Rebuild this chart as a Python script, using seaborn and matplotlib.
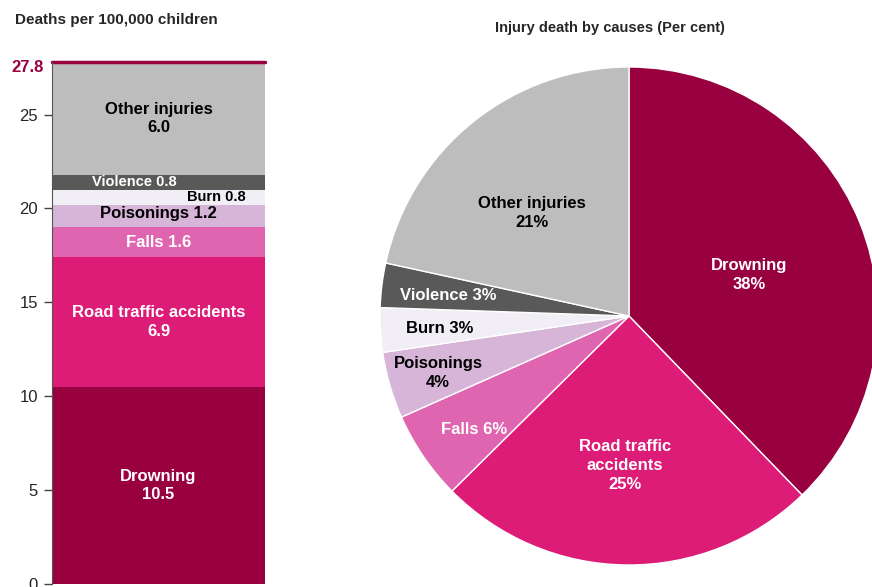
import numpy as np
import matplotlib
matplotlib.use("Agg")
import matplotlib.pyplot as plt
import seaborn as sns

# data
causes = ["Drowning", "Road traffic accidents", "Falls", "Poisonings", "Burn", "Violence", "Other injuries"]
rates = [10.5, 6.9, 1.6, 1.2, 0.8, 0.8, 6.0]
pie_pct = [38, 25, 6, 4, 3, 3, 21]
colors = ["#990040", "#DD1C77", "#DF65B0", "#D7B5D8", "#F1EEF6", "#595959", "#BDBDBD"]
text_colors = ["white", "white", "white", "black", "black", "white", "black"]
total = sum(rates)

sns.set_style("white")
plt.rcParams["font.family"] = ["Liberation Sans", "DejaVu Sans"]

fig = plt.figure(figsize=(8.72, 5.87), dpi=100)

# left: stacked bar
ax1 = fig.add_axes([52 / 872, 3 / 587, 213 / 872, 522 / 587])
bottom = 0
for c, v, col in zip(causes, rates, colors):
    sns.barplot(x=["all"], y=[v], bottom=bottom, color=col, width=1.0,
                saturation=1, linewidth=0, ax=ax1)
    bottom += v
ax1.set_xlim(-0.5, 0.5)
ax1.set_ylim(0, total)
ax1.axhline(total, color="#990040", lw=2.5, clip_on=False)
ax1.set_xticks([])
ax1.set_xlabel("")
ax1.set_yticks([0, 5, 10, 15, 20, 25])
ax1.tick_params(axis="y", direction="out", length=6, width=1, color="#444444",
                labelsize=12, left=True, pad=4)
for s in ["top", "right", "bottom"]:
    ax1.spines[s].set_visible(False)
ax1.spines["left"].set_color("#555555")
ax1.text(-0.04, total - 0.3, f"{total:.1f}", transform=ax1.get_yaxis_transform(),
         ha="right", va="center", color="#990040", fontsize=12, fontweight="bold")

# segment labels
bar_labels = ["Drowning\n10.5", "Road traffic accidents\n6.9", "Falls 1.6", "Poisonings 1.2",
              "Burn 0.8", "Violence 0.8", "Other injuries\n6.0"]
label_x = [0, 0, 0, 0, 0.27, -0.115, 0]
label_size = [12, 12, 12, 12, 10.5, 10.5, 12]
label_dy = [0, 0, 0, 0.15, 0, 0, 0]
cum = np.cumsum([0] + rates)
for i, lab in enumerate(bar_labels):
    ymid = (cum[i] + cum[i + 1]) / 2 + label_dy[i]
    ax1.text(label_x[i], ymid, lab, ha="center", va="center", color=text_colors[i],
             fontsize=label_size[i], fontweight="bold", linespacing=1.3)

fig.text(15 / 872, 1 - 20 / 587, "Deaths per 100,000 children", fontsize=11,
         fontweight="bold", va="center", ha="left")

# right: pie
r_px = 249
cx, cy = 629, 316
ax2 = fig.add_axes([(cx - r_px) / 872, 1 - (cy + r_px) / 587, 2 * r_px / 872, 2 * r_px / 587])
wedges, _ = ax2.pie(rates, colors=colors, startangle=90, counterclock=False,
                    wedgeprops=dict(edgecolor="white", linewidth=1))
ax2.set_xlim(-1, 1)
ax2.set_ylim(-1, 1)
ax2.set_aspect("equal")
ax2.axis("off")
for w in wedges:
    w.set_clip_on(False)

pie_labels = ["Drowning\n38%", "Road traffic\naccidents\n25%", "Falls 6%", "Poisonings\n4%",
              "Burn 3%", "Violence 3%", "Other injuries\n21%"]
label_r = [0.51, 0.6, 0.77, 0.8, 0.76, 0.73, 0.57]
label_shift = [-3, -1, 2, 0.5, 0.5, 0.5, 4.5]
for i, w in enumerate(wedges):
    ang = np.deg2rad((w.theta1 + w.theta2) / 2 + label_shift[i])
    ax2.text(label_r[i] * np.cos(ang), label_r[i] * np.sin(ang), pie_labels[i],
             ha="center", va="center", color=text_colors[i], fontsize=12,
             fontweight="bold", linespacing=1.32)

fig.text(610 / 872, 1 - 28 / 587, "Injury death by causes (Per cent)", fontsize=10.5,
         fontweight="bold", ha="center", va="center")

fig.savefig("out.png", dpi=100)
